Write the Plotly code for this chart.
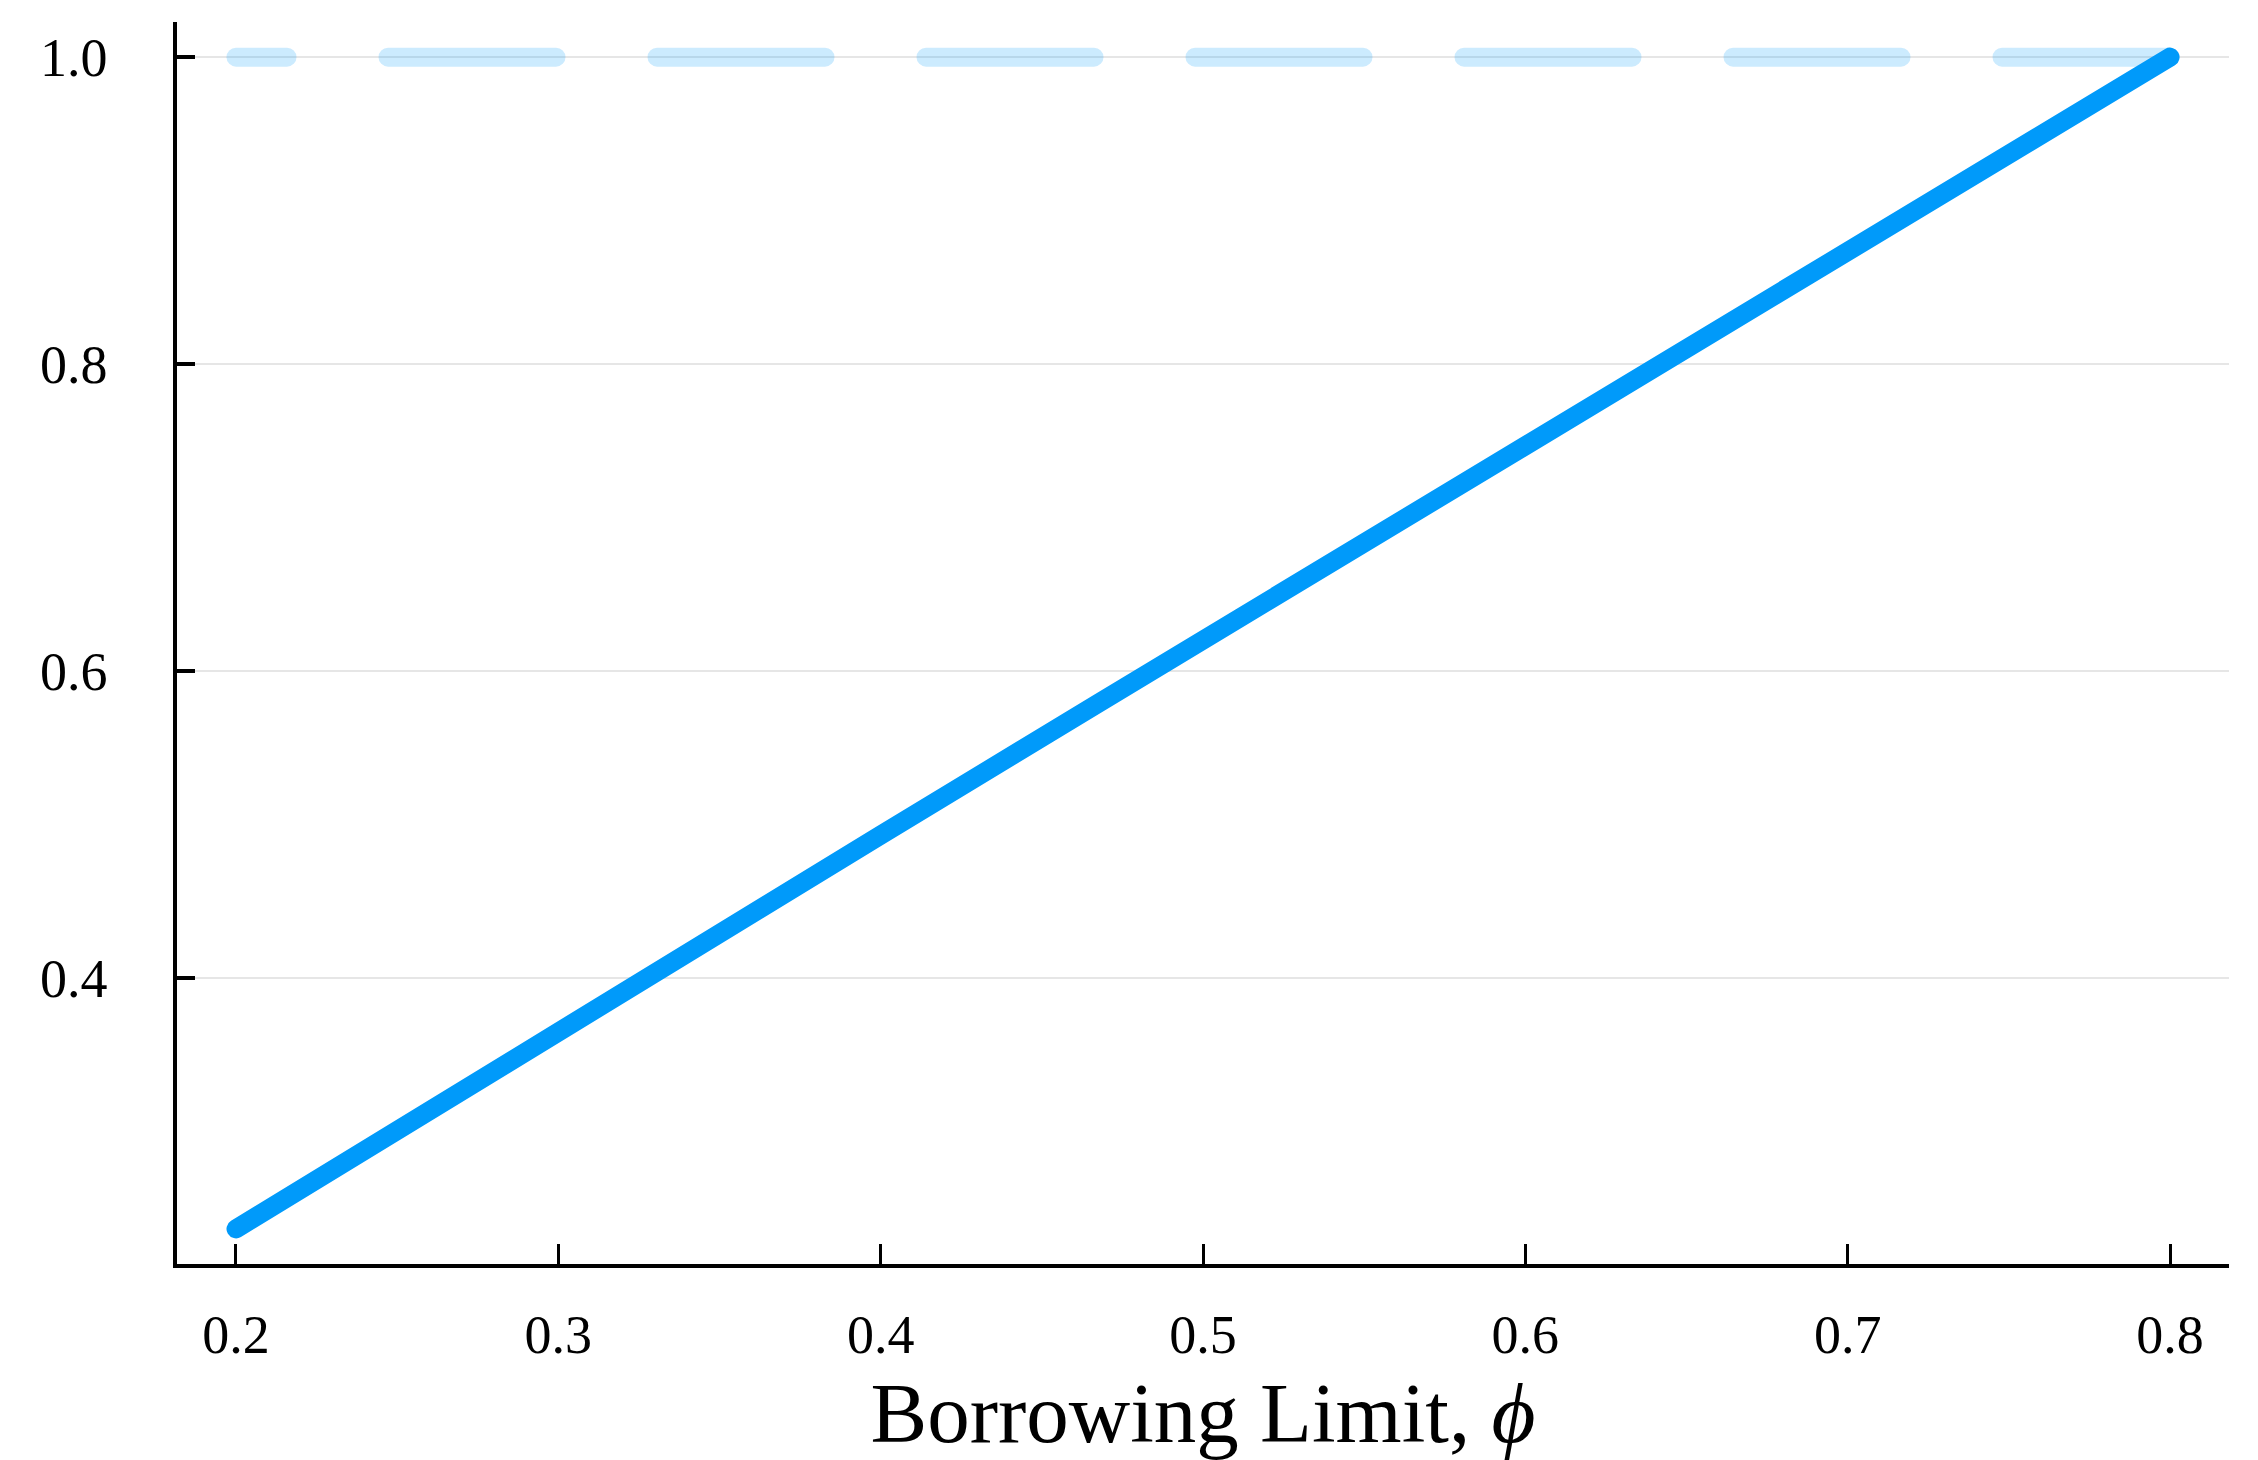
import plotly.graph_objects as go

# Data
phi = [0.2, 0.2667, 0.3333, 0.4, 0.4667, 0.5333, 0.6, 0.6667, 0.7333, 0.8]
ratio = [0.2365, 0.321, 0.408, 0.493, 0.578, 0.662, 0.747, 0.832, 0.9165, 1.0]
ref_level = [1.0] * len(phi)

x_ticks = [0.2, 0.3, 0.4, 0.5, 0.6, 0.7, 0.8]
y_ticks = [0.4, 0.6, 0.8, 1.0]

FONT = "Liberation Serif, DejaVu Serif, serif"

fig = go.Figure()
# dashed reference line (drawn right-to-left so the dash pattern starts at the right end)
fig.add_trace(go.Scatter(
    x=phi[::-1], y=ref_level[::-1], mode="lines",
    line=dict(color="rgba(0,154,250,0.2)", width=19, dash="168px,101px"),
    showlegend=False, hoverinfo="skip"))
fig.add_trace(go.Scatter(
    x=phi, y=ratio, mode="lines",
    line=dict(color="#009AFA", width=19),
    showlegend=False))

fig.update_layout(
    width=2258, height=1460,
    margin=dict(l=177, r=29, t=22, b=196),
    paper_bgcolor="white", plot_bgcolor="white",
    font=dict(family=FONT, color="black"),
    showlegend=False,
)
fig.update_xaxes(
    range=[0.1817, 0.8183], tickvals=x_ticks, tickformat=".1f",
    showgrid=False, zeroline=False, automargin=False,
    showline=True, linecolor="black", linewidth=3.5,
    ticks="inside", ticklen=20, tickwidth=3, tickcolor="black",
    tickfont=dict(family=FONT, size=54, color="black"),
    ticklabelstandoff=20,
    title=dict(text="Borrowing Limit, <i>ϕ</i>", font=dict(family=FONT, size=85, color="black"), standoff=30),
)
fig.update_yaxes(
    range=[0.2136, 1.0229], tickvals=y_ticks, tickformat=".1f",
    showgrid=True, gridcolor="#e6e6e6", gridwidth=2, zeroline=False, automargin=False,
    showline=True, linecolor="black", linewidth=3.5,
    ticks="inside", ticklen=18, tickwidth=3.5, tickcolor="black",
    tickfont=dict(family=FONT, size=54, color="black"),
    ticklabelstandoff=55,
)

post = ("document.body.style.margin='0';document.body.style.overflow='hidden';"
        "document.querySelectorAll('path.js-line').forEach(function(p){"
        "p.style.strokeLinecap='round';p.style.strokeLinejoin='round';});")
fig.write_html("out.html", post_script=post, config={"displayModeBar": False})
